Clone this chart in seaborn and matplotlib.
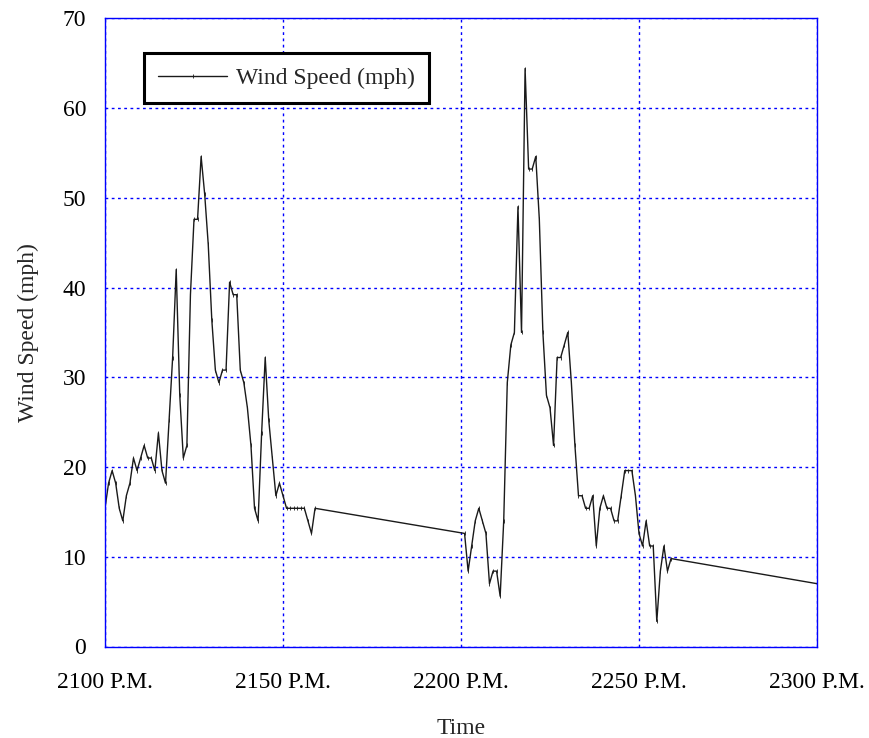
import matplotlib
matplotlib.use("Agg")
import matplotlib.pyplot as plt
import seaborn as sns
import pandas as pd

# Time stamps (HHMM style, plotted on a linear scale) and wind speed readings (mph)
times = [
    2100, 2101, 2102, 2103, 2104, 2105, 2106, 2107, 2108, 2109,
    2110, 2111, 2112, 2113, 2114, 2115, 2116, 2117, 2118, 2119,
    2120, 2121, 2122, 2123, 2124, 2125, 2126, 2127, 2128, 2129,
    2130, 2131, 2132, 2133, 2134, 2135, 2136, 2137, 2138, 2139,
    2140, 2141, 2142, 2143, 2144, 2145, 2146, 2147, 2148, 2149,
    2150, 2151, 2152, 2153, 2154, 2155, 2156, 2157, 2158, 2159,
    2201, 2202, 2203, 2204, 2205, 2206, 2207, 2208, 2209, 2210,
    2211, 2212, 2213, 2214, 2215, 2216, 2217, 2218, 2219, 2220,
    2221, 2222, 2223, 2224, 2225, 2226, 2227, 2228, 2229, 2230,
    2231, 2232, 2233, 2234, 2235, 2236, 2237, 2238, 2239, 2240,
    2241, 2242, 2243, 2244, 2245, 2246, 2247, 2248, 2249, 2250,
    2251, 2252, 2253, 2254, 2255, 2256, 2257, 2258, 2259, 2300,
]
wind_speed = [
    15.4, 18.2, 19.6, 18.2, 15.4, 14.0, 16.8, 18.2, 21.0, 19.6,
    21.0, 22.4, 21.0, 21.0, 19.6, 23.8, 19.6, 18.2, 25.2, 32.2,
    42.0, 28.0, 21.0, 22.4, 39.2, 47.6, 47.6, 54.6, 50.4, 44.8,
    36.4, 30.8, 29.4, 30.8, 30.8, 40.6, 39.2, 39.2, 30.8, 29.4,
    26.6, 22.4, 15.4, 14.0, 23.8, 32.2, 25.2, 21.0, 16.8, 18.2,
    16.8, 15.4, 15.4, 15.4, 15.4, 15.4, 15.4, 14.0, 12.6, 15.4,
    12.6, 8.4, 11.2, 14.0, 15.4, 14.0, 12.6, 7.0, 8.4, 8.4,
    5.6, 14.0, 29.4, 33.6, 35.0, 49.0, 35.0, 64.4, 53.2, 53.2,
    54.6, 47.6, 35.0, 28.0, 26.6, 22.4, 32.2, 32.2, 33.6, 35.0,
    29.4, 22.4, 16.8, 16.8, 15.4, 15.4, 16.8, 11.2, 15.4, 16.8,
    15.4, 15.4, 14.0, 14.0, 16.8, 19.6, 19.6, 19.6, 16.8, 12.6,
    11.2, 14.0, 11.2, 11.2, 2.8, 8.4, 11.2, 8.4, 9.8, 7.0,
]
x_ticks = [2100, 2150, 2200, 2250, 2300]
x_tick_labels = ["2100 P.M.", "2150 P.M.", "2200 P.M.", "2250 P.M.", "2300 P.M."]
y_ticks = [0, 10, 20, 30, 40, 50, 60, 70]
series_name = "Wind Speed (mph)"

df = pd.DataFrame({"Time": times, "Wind Speed (mph)": wind_speed,
                   "series": [series_name] * len(times)})

sns.set_theme(style="white")
plt.rcParams["font.family"] = ["Liberation Serif", "DejaVu Serif"]

FS = 17
line_color = "#1a1a1a"

fig = plt.figure(figsize=(8.7, 7.38), dpi=100)
ax = fig.add_axes([105 / 870, 1 - 646.5 / 738, 712 / 870, 628.2 / 738])

sns.lineplot(data=df, x="Time", y="Wind Speed (mph)", hue="series",
             palette=[line_color], sort=False, estimator=None, ax=ax,
             linewidth=1.0, marker="|", markersize=2.5, markeredgewidth=0.6,
             markeredgecolor=line_color, markerfacecolor=line_color)

ax.set_xlim(2100, 2300)
ax.set_ylim(0, 70)
ax.set_xticks(x_ticks)
ax.set_xticklabels(x_tick_labels)
ax.set_yticks(y_ticks)
ax.tick_params(axis="both", length=0, labelsize=FS, colors="black")
ax.tick_params(axis="x", pad=18)
ax.tick_params(axis="y", pad=13.5)

ax.grid(True, color="#0000ff", linestyle=(0, (2, 2.5)), linewidth=1.0)
for sp in ax.spines.values():
    sp.set_color("#0000ff")
    sp.set_linewidth(1.0)
    sp.set_visible(True)

ax.set_xlabel("Time", fontsize=FS, labelpad=18.5)
ax.set_ylabel("Wind Speed (mph)", fontsize=FS, labelpad=17)

leg = ax.legend(loc="upper left", bbox_to_anchor=(0.055, 0.944), borderaxespad=0,
                fontsize=FS, fancybox=False, framealpha=1, handlelength=2.9,
                handletextpad=0.4, borderpad=0.6)
leg.get_frame().set_edgecolor("black")
leg.get_frame().set_linewidth(2.2)
for line in leg.get_lines():
    line.set_linewidth(1.0)

fig.savefig("out.png", dpi=100)
